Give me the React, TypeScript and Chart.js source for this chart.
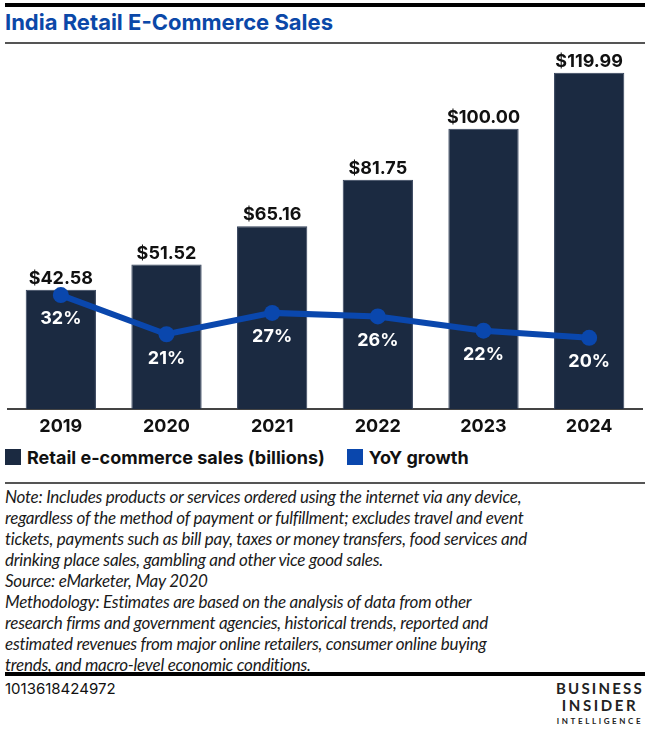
import React, { useEffect, useRef } from "react";
import { Chart, registerables } from "chart.js";

Chart.register(...registerables);

const categories = ["2019", "2020", "2021", "2022", "2023", "2024"];
const salesBillions = [42.58, 51.52, 65.16, 81.75, 100.0, 119.99];
const yoyGrowth = [32, 21, 27, 26, 22, 20];
const seriesNames = ["Retail e-commerce sales (billions)", "YoY growth"];

const noteLines = [
  "Note: Includes products or services ordered using the internet via any device,",
  "regardless of the method of payment or fulfillment; excludes travel and event",
  "tickets, payments such as bill pay, taxes or money transfers, food services and",
  "drinking place sales, gambling and other vice good sales.",
  "Source: eMarketer, May 2020",
  "Methodology: Estimates are based on the analysis of data from other",
  "research firms and government agencies, historical trends, reported and",
  "estimated revenues from major online retailers, consumer online buying",
  "trends, and macro-level economic conditions.",
];

const BAR_COLOR = "#1b2a41";
const LINE_COLOR = "#0a47ad";
const FONT = "Inter, 'Noto Sans', sans-serif";

const labelPlugin = {
  id: "valueLabels",
  afterDatasetDraw(chart: any, args: any) {
    const ctx = chart.ctx;
    const meta = args.meta;
    const ds = chart.data.datasets[args.index];
    ctx.save();
    ctx.textAlign = "center";
    if (meta.type === "bar") {
      ctx.font = `700 18px ${FONT}`;
      ctx.fillStyle = "#111111";
      ctx.textBaseline = "alphabetic";
      meta.data.forEach((el: any, i: number) => {
        ctx.fillText("$" + (ds.data[i] as number).toFixed(2), el.x, el.y - 6);
      });
    } else if (meta.type === "line") {
      ctx.font = `700 18px ${FONT}`;
      ctx.fillStyle = "#ffffff";
      ctx.textBaseline = "middle";
      meta.data.forEach((el: any, i: number) => {
        ctx.fillText(ds.data[i] + "%", el.x, el.y + 24);
      });
    }
    ctx.restore();
  },
};

function ChartCanvas() {
  const ref = useRef<HTMLCanvasElement | null>(null);
  useEffect(() => {
    if (!ref.current) return;
    const chart = new Chart(ref.current, {
      type: "bar",
      data: {
        labels: categories,
        datasets: [
          {
            type: "line",
            label: seriesNames[1],
            data: yoyGrowth,
            yAxisID: "y2",
            borderColor: LINE_COLOR,
            backgroundColor: LINE_COLOR,
            borderWidth: 6,
            pointRadius: 8,
            pointHoverRadius: 8,
            pointBackgroundColor: LINE_COLOR,
            pointBorderWidth: 0,
            tension: 0,
            order: 0,
          } as any,
          {
            type: "bar",
            label: seriesNames[0],
            data: salesBillions,
            yAxisID: "y",
            backgroundColor: BAR_COLOR,
            borderColor: "#33415a",
            borderWidth: 1,
            barPercentage: 0.665,
            categoryPercentage: 1,
            order: 1,
          } as any,
        ],
      },
      options: {
        animation: false,
        responsive: false,
        maintainAspectRatio: false,
        layout: { padding: { left: 5, right: 1, top: 4, bottom: 3 } },
        plugins: {
          legend: { display: false },
          tooltip: { enabled: false },
        },
        scales: {
          x: {
            grid: { display: false, drawTicks: false, tickLength: 0 },
            border: { display: true, color: "#444444", width: 2 },
            ticks: {
              color: "#111111",
              font: { family: FONT, size: 18, weight: "bold" },
              padding: 7,
            },
            afterFit: (s: any) => {
              s.height = 30;
            },
          } as any,
          y: {
            display: false,
            min: 0,
            max: 127,
          },
          y2: {
            display: false,
            min: 0,
            max: 100,
            position: "right",
          },
        },
      },
      plugins: [labelPlugin],
    });
    return () => chart.destroy();
  }, []);
  return (
    <canvas
      ref={ref}
      width={650}
      height={397}
      style={{ position: "absolute", left: 0, top: 45, width: 650, height: 397 }}
    />
  );
}

export default function App() {
  return (
    <div
      style={{
        position: "absolute",
        left: 0,
        top: 0,
        width: 650,
        height: 731,
        background: "#ffffff",
        overflow: "hidden",
        fontFamily: FONT,
      }}
    >
      <div style={{ position: "absolute", left: 5, right: 5, top: 3, height: 4, background: "#000" }} />
      <div
        style={{
          position: "absolute",
          left: 5,
          top: 9,
          fontSize: 22,
          lineHeight: "27px",
          fontWeight: 700,
          color: "#0b48a8",
          whiteSpace: "nowrap",
        }}
      >
        India Retail E-Commerce Sales
      </div>
      <div style={{ position: "absolute", left: 5, right: 5, top: 42, height: 2, background: "#555" }} />
      <ChartCanvas />
      <div
        style={{
          position: "absolute",
          left: 5,
          top: 447,
          height: 20,
          display: "flex",
          alignItems: "center",
          fontSize: 18,
          fontWeight: 700,
          color: "#111",
          whiteSpace: "nowrap",
        }}
      >
        <span style={{ width: 16, height: 16, background: BAR_COLOR, display: "inline-block", marginRight: 6 }} />
        <span>{seriesNames[0]}</span>
        <span
          style={{ width: 16, height: 16, background: LINE_COLOR, display: "inline-block", marginLeft: 22, marginRight: 6 }}
        />
        <span>{seriesNames[1]}</span>
      </div>
      <div style={{ position: "absolute", left: 5, right: 5, top: 482, height: 2, background: "#555" }} />
      <div
        style={{
          position: "absolute",
          left: 5,
          top: 486,
          fontFamily: "Lato, 'Noto Sans', sans-serif",
          fontStyle: "italic",
          fontSize: 17,
          letterSpacing: -0.25,
          lineHeight: "21px",
          color: "#1a1a1a",
          whiteSpace: "nowrap",
        }}
      >
        {noteLines.map((l, i) => (
          <div key={i}>{l}</div>
        ))}
      </div>
      <div style={{ position: "absolute", left: 5, right: 5, top: 672, height: 4, background: "#000" }} />
      <div
        style={{
          position: "absolute",
          left: 5,
          top: 680,
          fontSize: 15,
          lineHeight: "18px",
          color: "#111",
        }}
      >
        1013618424972
      </div>
      <div
        style={{
          position: "absolute",
          right: 5,
          top: 680,
          width: 92,
          textAlign: "center",
          color: "#222",
          fontFamily: "Lato, 'Noto Sans', sans-serif",
        }}
      >
        <div style={{ fontSize: 15, fontWeight: 700, letterSpacing: 2.2, lineHeight: "17px", marginRight: -2 }}>BUSINESS</div>
        <div style={{ fontSize: 15, fontWeight: 700, letterSpacing: 2.6, lineHeight: "17px", marginRight: -2 }}>INSIDER</div>
        <div style={{ fontSize: 8, fontWeight: 700, letterSpacing: 2.6, lineHeight: "14px", marginRight: -2 }}>INTELLIGENCE</div>
      </div>
    </div>
  );
}
